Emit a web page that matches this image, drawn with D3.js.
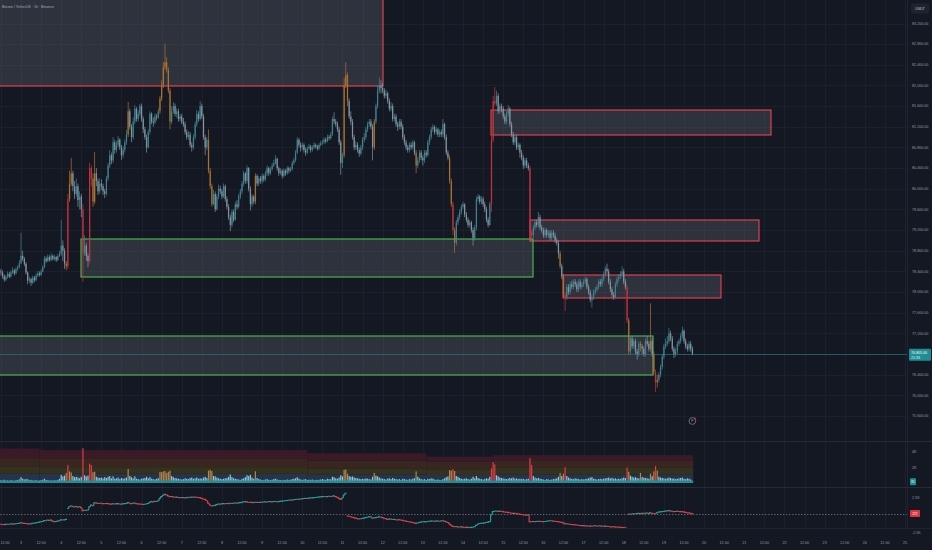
<!DOCTYPE html>
<html><head><meta charset="utf-8">
<script src="https://cdn.jsdelivr.net/npm/d3@7"></script>
<style>html,body{margin:0;padding:0;background:#141823;}svg{display:block}</style>
</head><body><svg id="c" width="932" height="550"></svg>
<script>
// ---------------- DATA ----------------
const title = "Bitcoin / TetherUS · 1h · Binance";
const startTime = "2025-03-02T12:00:00Z"; // first hourly candle
const firstOpen = 78400;
const closes = [78380,78310,78240,78290,78350,78300,78380,78420,78360,78440,78480,78560,
78700,78640,78550,78380,78220,78250,78180,78280,78230,78320,78360,78330,
78400,78480,78650,78600,78680,78620,78700,78640,78680,78620,78700,78740,
78900,78800,78550,78500,79800,80100,80300,80050,79900,80050,79780,79850,
79600,78750,78900,78700,78600,80400,80200,79750,80300,80150,79950,80100,
80050,79950,79900,80200,80450,80650,80550,80900,80750,80850,80950,80800,
80650,80750,80900,81050,81500,81200,81000,81300,81550,81350,81450,81600,
81350,81150,81000,80800,81100,81450,81300,81280,81400,81380,81500,81750,
82000,82350,82450,82300,81900,81300,81500,81600,81450,81500,81350,81400,
81300,81250,81100,81000,81050,80850,80800,81000,81250,81450,81350,81600,
81400,81000,80800,80950,80350,80050,79700,79900,79600,79850,80000,79950,
79850,80050,79800,79650,79450,79300,79550,79400,79700,79650,79850,79950,
80100,80300,80150,80400,80000,79700,79850,79750,80250,80100,80200,80150,
80250,80180,80300,80400,80300,80380,80450,80500,80580,80400,80300,80350,
80250,80350,80300,80400,80350,80380,80500,80550,80700,80950,80850,80800,
80850,80750,80700,80780,80820,80750,80800,80850,80820,80780,80850,80880,
80900,80950,80920,81000,80980,81050,81350,81300,81250,81150,80900,80500,
80650,82000,82200,81700,81400,81300,81000,80800,80850,80750,80680,80800,
80950,81000,81150,81250,81300,81200,80800,81300,81600,81900,82000,81950,
81900,81800,81850,81700,81550,81600,81350,81400,81250,81200,81300,81200,
81000,80900,80800,80750,80850,80800,80900,80700,80450,80550,80700,80600,
80550,80700,80650,80900,81000,81150,81200,81100,81150,81050,81100,81050,
81250,81000,80700,80600,80150,79700,79200,78950,79350,79450,79550,79650,
79700,79500,79400,79300,79350,79200,79050,79250,79800,79850,79750,79800,
79700,79600,79400,79300,79700,80950,81700,81650,81800,81500,81600,81550,
81400,81300,81450,81550,81250,81050,80900,81000,80800,80850,80700,80600,
80450,80550,80450,80400,79150,79100,79250,79350,79300,79450,79250,79200,
79100,79200,79100,79150,79050,79150,79100,79000,78950,78750,78500,78300,
77950,77900,78100,78000,78150,78100,78200,78150,78050,78200,78100,78150,
78200,78250,78100,78000,77850,77900,78000,78050,78100,78200,78150,78250,
78350,78450,78400,78200,78050,77950,77900,78150,78250,78300,78350,78400,
78200,78100,77450,76850,77100,76950,77050,76850,76800,77000,76950,76900,
76800,77050,77000,76900,77050,76800,76450,76250,76300,76400,76550,76750,
76950,77000,77050,77200,77100,76900,76800,76850,77000,77050,77150,77250,
77050,76950,76900,77000,76900,76805];
const highs = [78450,78420,78340,78330,78400,78390,78420,78480,78450,78480,78520,78620,
79150,78800,78680,78580,78400,78300,78280,78320,78310,78360,78410,78400,
78440,78520,78700,78690,78730,78710,78750,78730,78720,78700,78740,78800,
79400,79000,78850,78600,79900,80350,80600,80350,80150,80200,80100,79950,
79900,79700,79100,78950,78750,80500,80450,80300,80710,80400,80200,80200,
80180,80100,80000,80250,80500,80750,80700,81000,80950,80920,81020,80980,
80850,80820,80960,81140,81680,81550,81250,81380,81620,81580,81520,81640,
81650,81400,81200,81050,81150,81500,81480,81380,81460,81450,81560,81800,
82100,82450,82810,82550,82350,81950,81600,81680,81650,81560,81550,81450,
81450,81370,81300,81150,81120,81100,80900,81050,81300,81530,81500,81700,
81650,81450,81050,81000,81150,80400,80100,79980,79950,79900,80080,80060,
80000,80100,80080,79850,79700,79500,79600,79600,79750,79780,79900,80000,
80150,80350,80320,80450,80420,80050,79900,79880,80300,80280,80250,80250,
80300,80280,80350,80450,80430,80420,80500,80560,80650,80600,80430,80400,
80380,80400,80380,80440,80430,80420,80540,80600,80750,81000,80980,80900,
80900,80880,80800,80820,80870,80850,80840,80900,80880,80850,80890,80930,
80950,81000,80990,81050,81040,81100,81400,81480,81350,81300,81200,80950,
80700,82150,82450,82250,81750,81500,81350,81050,80920,80900,80800,80850,
81000,81080,81200,81300,81350,81350,81250,81350,81650,82000,82150,82100,
82050,81950,81920,81880,81750,81680,81650,81450,81450,81300,81350,81350,
81250,81050,80950,80850,80900,80900,80950,80930,80750,80620,80750,80750,
80650,80750,80750,80950,81050,81200,81250,81230,81200,81180,81150,81150,
81350,81280,81050,80750,80650,80200,79750,79250,79400,79500,79600,79700,
79750,79720,79550,79450,79400,79380,79250,79300,79850,79900,79880,79850,
79850,79750,79650,79450,79750,81050,81800,81970,81900,81850,81650,81650,
81600,81450,81500,81620,81580,81300,81100,81050,81050,80900,80880,80750,
80650,80600,80600,80500,80450,79200,79300,79400,79400,79550,79500,79300,
79250,79250,79230,79200,79200,79200,79200,79150,79050,79000,78800,78550,
78350,78000,78150,78150,78200,78220,78250,78250,78200,78250,78250,78200,
78250,78300,78280,78150,78050,77950,78050,78100,78150,78250,78250,78300,
78400,78500,78550,78450,78250,78100,78000,78200,78300,78350,78400,78500,
78450,78250,78150,77500,77150,77150,77100,77100,76900,77050,77050,77000,
76950,77100,77150,77050,77780,77100,76850,76500,76400,76450,76600,76800,
77000,77100,77150,77300,77250,77150,76950,76920,77050,77100,77200,77330,
77280,77100,77000,77050,77050,76950];
const lows = [78320,78260,78200,78210,78260,78270,78280,78350,78320,78340,78410,78460,
78540,78600,78500,78340,78150,78180,78120,78150,78190,78210,78290,78300,
78310,78380,78460,78560,78580,78590,78600,78610,78610,78580,78600,78680,
78700,78600,78450,78420,78450,79750,80050,79950,79800,79850,79650,79600,
79450,78200,78700,78600,78480,78550,80050,79650,79700,80050,79880,79900,
79980,79880,79820,79870,80150,80400,80480,80500,80680,80700,80800,80750,
80560,80600,80700,80850,81000,81150,80900,80950,81250,81300,81300,81400,
81300,81080,80950,80700,80780,81050,81250,81200,81250,81320,81350,81450,
81700,81950,82300,82250,81850,81150,81250,81450,81400,81380,81300,81300,
81250,81200,81050,80950,80950,80800,80720,80760,80950,81200,81300,81320,
81350,80950,80650,80750,80300,80000,79650,79680,79550,79580,79800,79900,
79800,79820,79750,79600,79400,79180,79250,79350,79380,79600,79620,79800,
79900,80050,80100,80100,79950,79580,79650,79700,79700,80050,80050,80100,
80100,80130,80150,80250,80250,80270,80350,80420,80470,80350,80250,80270,
80200,80220,80250,80270,80300,80320,80350,80460,80520,80680,80800,80720,
80750,80700,80640,80670,80750,80700,80720,80770,80780,80740,80750,80820,
80850,80870,80880,80900,80940,80950,81020,81250,81200,81100,80850,80270,
80400,80600,81950,81600,81350,81230,80950,80750,80750,80700,80620,80650,
80750,80900,80950,81100,81200,81150,80550,80750,81250,81550,81850,81850,
81850,81750,81750,81650,81500,81500,81300,81300,81200,81120,81150,81150,
80950,80850,80750,80700,80700,80750,80760,80650,80300,80400,80500,80550,
80450,80500,80600,80620,80850,80950,81100,81050,81050,81000,81000,81000,
81000,80950,80650,80550,80100,79650,79100,78760,78900,79300,79400,79500,
79600,79450,79350,79250,79250,79150,78900,79000,79200,79750,79700,79700,
79650,79550,79350,79250,79280,79550,80900,81600,81600,81450,81450,81480,
81350,81250,81250,81400,81200,81000,80850,80850,80750,80750,80600,80550,
80380,80400,80400,80350,79000,79000,79050,79200,79250,79250,79200,79150,
79050,79050,79050,79050,79000,79000,79050,78950,78900,78650,78450,78250,
77900,77630,77850,77950,77950,78050,78050,78100,78000,78000,78050,78050,
78100,78150,78050,77950,77800,77700,77850,77950,78000,78050,78100,78100,
78200,78300,78350,78150,78000,77900,77850,77880,78100,78200,78250,78300,
78150,78050,77400,76780,76800,76900,76900,76800,76690,76750,76850,76800,
76750,76750,76950,76850,76850,76750,76400,76070,76150,76250,76350,76500,
76700,76900,76950,77000,77050,76850,76720,76750,76800,76950,77000,77100,
77000,76900,76850,76850,76850,76780];
// volume per candle, thousands of BTC
const volumes = [0.35,0.30,0.42,0.28,0.33,0.25,0.38,0.30,0.27,0.35,0.40,0.45,
0.75,0.55,0.45,0.50,0.48,0.35,0.40,0.32,0.30,0.36,0.28,0.30,
0.38,0.42,0.55,0.40,0.35,0.30,0.33,0.28,0.36,0.30,0.40,0.52,
1.05,0.85,0.95,1.30,2.30,1.50,1.35,0.90,0.75,0.80,0.70,0.60,
0.80,4.50,1.00,0.85,0.95,2.50,2.30,1.40,1.45,0.80,0.70,0.65,
0.70,0.60,0.75,0.65,0.80,0.90,0.60,0.85,0.55,0.60,0.70,0.50,
0.65,0.55,0.60,0.70,1.80,0.90,0.75,0.60,0.85,0.55,0.50,0.45,
0.55,0.60,0.65,0.80,0.60,0.75,0.55,0.50,0.45,0.55,0.60,1.45,
1.40,1.50,1.55,1.30,1.45,1.60,0.90,0.75,0.65,0.60,0.55,0.50,
0.45,0.50,0.60,0.55,0.50,0.65,0.70,0.55,0.60,0.70,0.55,0.60,
0.55,0.70,0.80,0.65,1.60,1.70,1.55,0.90,0.85,0.70,0.60,0.55,
0.50,0.55,0.60,0.65,0.80,1.10,0.75,0.60,0.55,0.50,0.45,0.40,
0.55,0.60,0.75,1.00,0.90,1.05,0.70,0.55,1.50,0.65,0.50,0.45,
0.40,0.35,0.45,0.50,0.40,0.38,0.42,0.50,0.55,0.45,0.40,0.38,
0.35,0.40,0.38,0.45,0.40,0.42,0.50,0.55,0.60,0.75,0.55,0.45,
0.40,0.45,0.50,0.38,0.42,0.40,0.45,0.35,0.40,0.38,0.42,0.45,
0.50,0.45,0.40,0.55,0.50,0.48,0.80,0.75,0.60,0.55,0.70,1.00,
0.85,1.70,1.75,1.20,0.90,0.80,0.85,0.70,0.65,0.60,0.55,0.50,
0.55,0.50,0.60,0.55,0.50,0.45,0.80,1.30,0.95,0.85,0.70,0.60,
0.55,0.50,0.45,0.55,0.60,0.50,0.65,0.55,0.50,0.45,0.50,0.40,
0.55,0.50,0.45,0.40,0.50,0.45,0.55,0.60,1.50,0.80,0.60,0.50,
0.45,0.50,0.40,0.55,0.50,0.60,0.55,0.45,0.40,0.45,0.40,0.38,
0.50,0.60,0.75,0.85,1.65,1.60,1.80,1.55,0.90,0.80,0.65,0.55,
0.50,0.55,0.60,0.50,0.45,0.55,0.80,0.60,0.90,0.65,0.55,0.50,
0.45,0.50,0.60,0.55,0.80,1.90,2.70,2.40,1.00,0.85,0.70,0.65,
0.60,0.55,0.50,0.55,0.65,0.60,0.70,0.55,0.60,0.50,0.55,0.50,
0.55,0.45,0.50,0.55,3.20,2.30,0.90,0.70,0.60,0.65,0.55,0.50,
0.45,0.40,0.50,0.45,0.40,0.45,0.50,0.55,0.60,0.80,1.30,0.90,
1.20,2.05,0.90,0.70,0.60,0.55,0.50,0.60,0.55,0.50,0.45,0.50,
0.45,0.50,0.55,0.60,0.70,0.75,0.55,0.50,0.45,0.50,0.55,0.50,
0.55,0.60,0.65,0.70,0.60,0.65,0.55,0.60,0.50,0.55,0.50,0.60,
0.70,0.65,2.00,1.45,0.95,0.80,0.70,0.75,0.65,0.60,1.30,0.75,
0.70,0.65,0.60,0.55,1.20,0.85,1.50,2.20,1.60,0.80,0.70,0.65,
0.60,0.55,0.60,0.70,0.65,0.55,0.60,0.50,0.55,0.60,0.65,0.70,
0.55,0.50,0.60,0.55,0.45,0.081];
// volume tier bands (thousands), stepped over time
const bandStarts = ["2025-03-02T11:00:00Z","2025-03-03T11:00:00Z","2025-03-10T03:00:00Z","2025-03-13T02:00:00Z","2025-03-14T18:00:00Z"];
const bandEnd = "2025-03-19T17:30:00Z";
const bandBase = [0.32,0.32,0.32,0.32,0.32];
const bandLow = [1.2,1.2,1.12,1.03,1.12];
const bandMid = [2.1,2.05,1.9,1.77,1.97];
const bandHigh = [3.2,3.1,2.88,2.75,2.84];
const bandTop = [4.45,4.25,3.85,3.4,3.6];
// cumulative volume delta (thousands), anchored periods
const cvd = [-1.26,-1.28,-1.30,-1.27,-1.24,-1.26,-1.22,-1.20,-1.23,-1.18,-1.15,-1.10,
-1.05,-1.08,-1.12,-1.15,-1.20,-1.17,-1.19,-1.12,-1.10,-1.05,-1.00,-0.95,
-0.90,-0.85,-0.72,-0.75,-0.64,-0.70,-0.66,-0.80,-0.88,-0.85,-0.80,-0.75,
-0.60,-0.65,-0.62,-0.55,1.00,1.25,1.36,1.30,1.22,1.28,1.20,1.26,
1.10,0.69,0.75,0.72,0.78,1.26,1.50,1.40,1.83,1.80,1.72,1.76,
1.74,1.70,1.68,1.72,1.70,1.66,1.62,1.68,1.64,1.66,1.70,1.64,
1.62,1.66,1.70,1.72,1.85,1.76,1.70,1.74,1.78,1.70,1.66,1.64,
1.62,1.58,1.60,1.64,1.72,1.90,1.98,1.95,2.02,2.00,2.10,2.45,
2.70,2.90,3.02,2.95,2.80,2.69,2.72,2.66,2.60,2.62,2.57,2.55,
2.55,2.58,2.52,2.56,2.60,2.58,2.62,2.60,2.64,2.60,2.58,2.55,
2.45,2.36,2.30,2.10,1.74,1.50,1.36,1.40,1.45,1.55,1.64,1.62,
1.66,1.70,1.68,1.72,1.70,1.74,1.72,1.76,1.78,1.74,1.80,1.84,
1.88,1.92,1.98,1.95,1.90,1.86,1.88,1.84,1.90,1.88,1.86,1.88,
1.90,1.92,1.95,1.93,1.96,1.98,1.95,1.99,2.00,1.96,1.98,2.02,
2.05,2.08,2.10,2.14,2.18,2.21,2.19,2.24,2.28,2.32,2.30,2.35,
2.38,2.42,2.45,2.43,2.48,2.50,2.52,2.55,2.58,2.60,2.63,2.66,
2.69,2.72,2.68,2.70,2.74,2.72,2.76,2.80,2.70,2.60,2.45,2.30,
2.50,2.93,3.17,-0.07,-0.10,-0.18,-0.25,-0.30,-0.38,-0.45,-0.50,-0.46,
-0.42,-0.38,-0.30,-0.25,-0.20,-0.17,-0.40,-0.35,-0.30,-0.25,-0.20,-0.22,
-0.30,-0.40,-0.45,-0.55,-0.52,-0.50,-0.58,-0.55,-0.60,-0.62,-0.60,-0.64,
-0.70,-0.75,-0.80,-0.85,-0.90,-0.95,-1.00,-1.05,-1.12,-1.08,-1.00,-0.95,
-0.90,-0.88,-0.92,-0.85,-0.82,-0.80,-0.78,-0.82,-0.80,-0.79,-0.82,-0.79,
-0.75,-0.80,-0.90,-1.00,-1.20,-1.40,-1.55,-1.60,-1.58,-1.62,-1.65,-1.63,
-1.66,-1.68,-1.70,-1.69,-1.72,-1.70,-1.68,-1.60,-1.40,-1.25,-1.15,-1.12,
-1.10,-1.05,-1.00,-0.95,-0.88,0.10,0.55,0.60,0.64,0.58,0.62,0.60,
0.55,0.50,0.48,0.45,0.40,0.35,0.31,0.33,0.28,0.25,0.20,0.15,
0.10,0.07,0.05,0.07,-0.88,-0.90,-0.86,-0.88,-0.85,-0.82,-0.84,-0.86,
-0.88,-0.86,-0.82,-0.78,-0.74,-0.76,-0.80,-0.82,-0.85,-0.88,-0.92,-0.98,
-1.05,-1.21,-1.18,-1.22,-1.25,-1.28,-1.30,-1.33,-1.36,-1.40,-1.42,-1.45,
-1.44,-1.46,-1.48,-1.50,-1.52,-1.49,-1.50,-1.47,-1.49,-1.51,-1.50,-1.52,
-1.54,-1.52,-1.55,-1.58,-1.60,-1.62,-1.60,-1.63,-1.65,-1.66,-1.68,-1.70,
-1.72,-1.74,-2.07,0.21,0.18,0.22,0.25,0.24,0.28,0.30,0.27,0.31,
0.30,0.32,0.35,0.30,0.38,0.33,0.28,0.25,0.40,0.48,0.52,0.55,
0.58,0.62,0.65,0.69,0.66,0.60,0.55,0.57,0.60,0.58,0.56,0.55,
0.52,0.45,0.40,0.38,0.33,0.272];
const cvdResets = [40, 207, 375];
// supply / demand zones
const zoneStart = ["2025-02-27T00:00:00Z","2025-03-14T17:00:00Z","2025-03-15T16:00:00Z","2025-03-16T12:00:00Z","2025-03-04T12:00:00Z","2025-02-27T00:00:00Z"];
const zoneEnd = ["2025-03-12T00:00:00Z","2025-03-21T16:00:00Z","2025-03-21T09:00:00Z","2025-03-20T10:00:00Z","2025-03-15T18:00:00Z","2025-03-18T17:30:00Z"];
const zoneTop = [84500,81520,79400,78330,79030,77150];
const zoneBottom = [81990,81040,78990,77885,78290,76395];
const zoneKind = ["supply","supply","supply","supply","demand","demand"];
// axis ticks
const priceTicks = [75600,76000,76400,76800,77200,77600,78000,78400,78800,79200,79600,80000,80400,80800,81200,81600,82000,82400,82800,83200];
const volTicks = [2, 4];
const volTickLabels = ["2K", "4K"];
const cvdTicks = [-2.5, 2.5];
const cvdTickLabels = ["-2.5K", "2.5K"];
const currency = "USDT";
const countdown = "21:33";

// ---------------- CHART ----------------
const W = 932, H = 550, R = 907;
const svg = d3.select("#c");
const FONT = "'Liberation Sans', Arial, sans-serif";
const t0 = new Date(startTime).getTime();
const times = closes.map((_, i) => new Date(t0 + i * 3600e3));
const opens = closes.map((c, i) => i === 0 ? firstOpen : closes[i - 1]);

const x = d3.scaleUtc().domain([new Date("2025-03-03T00:00:00Z"), new Date("2025-03-25T00:00:00Z")]).range([21, 905]);
const y = d3.scaleLinear().domain([75600, 83200]).range([416, 23.5]);
const yv = d3.scaleLinear().domain([0, 4]).range([483, 452]);
const yc = d3.scaleLinear().domain([-2.5, 2.5]).range([533, 498]);

const defs = svg.append("defs");
defs.append("clipPath").attr("id", "cm").append("rect").attr("x", 0).attr("y", 0).attr("width", R).attr("height", 440);
defs.append("clipPath").attr("id", "cv").append("rect").attr("x", 0).attr("y", 442).attr("width", R).attr("height", 45);
defs.append("clipPath").attr("id", "ci").append("rect").attr("x", 0).attr("y", 488).attr("width", R).attr("height", 40);

svg.append("rect").attr("width", W).attr("height", H).attr("fill", "#141823");

// grid
const tickTimes = d3.utcHour.every(12).range(new Date("2025-03-02T12:00:00Z"), new Date("2025-03-25T01:00:00Z"));
const grid = svg.append("g").attr("stroke", "#1c202c").attr("stroke-width", 1);
grid.selectAll("line.v").data(tickTimes).join("line")
  .attr("x1", d => Math.round(x(d)) + 0.5).attr("x2", d => Math.round(x(d)) + 0.5)
  .attr("y1", 0).attr("y2", 528);
grid.selectAll("line.h").data(priceTicks).join("line").attr("class", "h")
  .attr("x1", 0).attr("x2", R).attr("y1", d => Math.round(y(d)) + 0.5).attr("y2", d => Math.round(y(d)) + 0.5);

// main pane
const main = svg.append("g").attr("clip-path", "url(#cm)");
const zoneIdx = d3.range(zoneTop.length);
const zx0 = i => Math.round(x(new Date(zoneStart[i])));
const zx1 = i => Math.round(x(new Date(zoneEnd[i])));
const zy0 = i => Math.round(y(zoneTop[i]));
const zy1 = i => Math.round(y(zoneBottom[i]));
main.selectAll("rect.zone").data(zoneIdx).join("rect").attr("class", "zone")
  .attr("x", zx0).attr("y", zy0)
  .attr("width", i => zx1(i) - zx0(i)).attr("height", i => zy1(i) - zy0(i))
  .attr("fill", "rgba(125,128,140,0.26)")
  .attr("stroke", i => zoneKind[i] === "supply" ? "#e5414f" : "#4cb750")
  .attr("stroke-width", 1.15);

const lastClose = closes[closes.length - 1];
main.append("line").attr("x1", 0).attr("x2", R)
  .attr("y1", Math.round(y(lastClose)) + 0.5).attr("y2", Math.round(y(lastClose)) + 0.5)
  .attr("stroke", "#23737c").attr("stroke-width", 1).attr("opacity", 0.7);

function tierOf(i) {
  const t = times[i];
  let s = 0;
  for (let k = 0; k < bandStarts.length; k++) if (t >= new Date(bandStarts[k])) s = k;
  if (volumes[i] > bandMid[s]) return 2;
  if (volumes[i] > bandLow[s]) return 1;
  return 0;
}
const tiers = closes.map((_, i) => tierOf(i));
const candleColor = i => tiers[i] === 2 ? "#c9323e" : tiers[i] === 1 ? "#b0742e" : (closes[i] >= opens[i] ? "#3f8792" : "#8598a4");
const idx = d3.range(closes.length);
main.selectAll("rect.wick").data(idx).join("rect").attr("class", "wick")
  .attr("x", i => x(times[i]) - 0.4).attr("width", 0.8)
  .attr("y", i => y(highs[i])).attr("height", i => Math.max(0.6, y(lows[i]) - y(highs[i])))
  .attr("fill", candleColor).attr("opacity", 0.85);
main.selectAll("rect.body").data(idx).join("rect").attr("class", "body")
  .attr("x", i => x(times[i]) - 0.65).attr("width", 1.3)
  .attr("y", i => y(Math.max(opens[i], closes[i])))
  .attr("height", i => Math.max(0.8, Math.abs(y(opens[i]) - y(closes[i]))))
  .attr("fill", candleColor).attr("opacity", 0.9);

// volume pane
const vol = svg.append("g").attr("clip-path", "url(#cv)");
const bandIdx = d3.range(bandStarts.length);
const bStart = k => x(new Date(bandStarts[k]));
const bEnd = k => k < bandStarts.length - 1 ? x(new Date(bandStarts[k + 1])) : x(new Date(bandEnd));
const layers = [
  {lo: k => 0, hi: k => bandLow[k], c: "#28324a"},
  {lo: k => bandLow[k], hi: k => bandMid[k], c: "#33321f"},
  {lo: k => bandMid[k], hi: k => bandHigh[k], c: "#392620"},
  {lo: k => bandHigh[k], hi: k => bandTop[k], c: "#3a1a26"}
];
layers.forEach(L => {
  vol.selectAll(null).data(bandIdx).join("rect")
    .attr("x", k => bStart(k)).attr("width", k => bEnd(k) - bStart(k))
    .attr("y", k => yv(L.hi(k))).attr("height", k => yv(L.lo(k)) - yv(L.hi(k)))
    .attr("fill", L.c);
});
const volColor = i => tiers[i] === 2 ? "#e23a46" : tiers[i] === 1 ? "#b5874a" : "#8fc9d4";
vol.selectAll("rect.vb").data(idx).join("rect").attr("class", "vb")
  .attr("x", i => x(times[i]) - 0.6).attr("width", 1.2)
  .attr("y", i => yv(volumes[i])).attr("height", i => yv(0) - yv(volumes[i]))
  .attr("fill", volColor);
vol.selectAll("rect.base").data(bandIdx).join("rect").attr("class", "base")
  .attr("x", k => bStart(k)).attr("width", k => bEnd(k) - bStart(k))
  .attr("y", k => yv(bandBase[k])).attr("height", k => yv(0) - yv(bandBase[k]))
  .attr("fill", "#1f8e96");

// indicator pane
const ind = svg.append("g").attr("clip-path", "url(#ci)");
const lastCvd = cvd[cvd.length - 1];
ind.append("line").attr("x1", 0).attr("x2", R)
  .attr("y1", Math.round(yc(lastCvd)) + 0.5).attr("y2", Math.round(yc(lastCvd)) + 0.5)
  .attr("stroke", "#6f7380").attr("stroke-width", 0.8).attr("stroke-dasharray", "1.5,1.5");
const half = 0.84;
ind.selectAll("path.cv").data(idx).join("path").attr("class", "cv")
  .attr("d", i => {
    const xi = x(times[i]);
    const yi = yc(cvd[i]);
    if (i === 0 || cvdResets.includes(i)) return `M${xi - half},${yi}H${xi + half}`;
    return `M${xi - half},${yc(cvd[i - 1])}V${yi}H${xi + half}`;
  })
  .attr("fill", "none").attr("stroke-width", 1.1)
  .attr("stroke", i => (i === 0 || cvdResets.includes(i) ? cvd[i] >= 0 : cvd[i] >= cvd[i - 1]) ? "#22a59e" : "#e0424e");

// separators
svg.append("line").attr("x1", 0).attr("x2", W).attr("y1", 441.5).attr("y2", 441.5).attr("stroke", "#262a36");
svg.append("line").attr("x1", 0).attr("x2", W).attr("y1", 487.5).attr("y2", 487.5).attr("stroke", "#262a36");
svg.append("line").attr("x1", 0).attr("x2", W).attr("y1", 528.5).attr("y2", 528.5).attr("stroke", "#1f2330");
svg.append("line").attr("x1", R + 0.5).attr("x2", R + 0.5).attr("y1", 0).attr("y2", 528).attr("stroke", "#1f2330");

// axes text
const txt = svg.append("g").attr("font-family", FONT).attr("font-size", 3.7).attr("fill", "#959aa5");
txt.selectAll("text.p").data(priceTicks).join("text").attr("class", "p")
  .attr("x", 912).attr("y", d => y(d) + 1.3).text(d => d3.format(",.2f")(d));
txt.selectAll("text.v").data(volTicks).join("text").attr("class", "v")
  .attr("x", 912).attr("y", d => yv(d) + 1.3).text((d, i) => volTickLabels[i]);
txt.selectAll("text.c").data(cvdTicks).join("text").attr("class", "c")
  .attr("x", 912).attr("y", d => yc(d) + 1.3).text((d, i) => cvdTickLabels[i]);
txt.selectAll("text.t").data(tickTimes).join("text").attr("class", "t")
  .attr("x", d => Math.max(x(d), 5)).attr("y", 544).attr("text-anchor", "middle")
  .text(d => d.getUTCHours() === 0 ? String(d.getUTCDate()) : "12:00");

// title
svg.append("text").attr("x", 2).attr("y", 8.2).attr("font-family", FONT).attr("font-size", 3.6)
  .attr("fill", "#a9adb8").text(title);

// currency box
svg.append("rect").attr("x", 911).attr("y", 3.5).attr("width", 18).attr("height", 10).attr("rx", 1).attr("fill", "#1f2330");
svg.append("text").attr("x", 920).attr("y", 9.8).attr("text-anchor", "middle").attr("font-family", FONT)
  .attr("font-size", 3.5).attr("fill", "#c5c8d0").text(currency);

// current price label
const yl = y(lastClose);
svg.append("rect").attr("x", 909).attr("y", yl - 5).attr("width", 22).attr("height", 12).attr("rx", 1).attr("fill", "#1f8d94");
svg.append("text").attr("x", 911).attr("y", yl).attr("font-family", FONT).attr("font-size", 3.6)
  .attr("fill", "#ffffff").text(d3.format(",.2f")(lastClose));
svg.append("text").attr("x", 911).attr("y", yl + 4.8).attr("font-family", FONT).attr("font-size", 3.6)
  .attr("fill", "#e6f3f4").text(countdown);

// last volume label
const lastVol = volumes[volumes.length - 1];
svg.append("rect").attr("x", 910).attr("y", yv(lastVol) - 4).attr("width", 6).attr("height", 7).attr("rx", 0.8).attr("fill", "#1f8d94");
svg.append("text").attr("x", 913).attr("y", yv(lastVol) + 0.8).attr("text-anchor", "middle").attr("font-family", FONT)
  .attr("font-size", 3).attr("fill", "#ffffff").text(Math.round(lastVol * 1000));

// last cvd label
svg.append("rect").attr("x", 910).attr("y", yc(lastCvd) - 3.5).attr("width", 10).attr("height", 7).attr("rx", 0.8).attr("fill", "#e0323f");
svg.append("text").attr("x", 915).attr("y", yc(lastCvd) + 1.2).attr("text-anchor", "middle").attr("font-family", FONT)
  .attr("font-size", 3.2).attr("fill", "#ffffff").text(Math.round(lastCvd * 1000));

// small marker icon
const ix = x(times[times.length - 1]), iy = 421;
svg.append("circle").attr("cx", ix).attr("cy", iy).attr("r", 3.4).attr("fill", "#141823").attr("stroke", "#858995").attr("stroke-width", 0.7);
svg.append("text").attr("x", ix).attr("y", iy + 1.2).attr("text-anchor", "middle").attr("font-family", FONT)
  .attr("font-size", 3.4).attr("fill", "#a0a4ae").text("F");
svg.append("circle").attr("cx", ix + 2.5).attr("cy", iy - 2.5).attr("r", 0.9).attr("fill", "#e0323f");
</script></body></html>
